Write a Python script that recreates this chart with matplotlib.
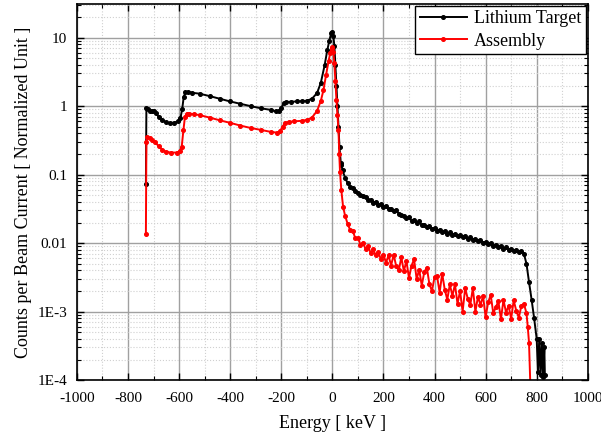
import matplotlib
matplotlib.use('Agg')
import matplotlib.pyplot as plt
from matplotlib.ticker import FixedLocator, MultipleLocator, LogLocator, NullFormatter
import numpy as np

plt.rcParams['font.family'] = ['Liberation Serif', 'DejaVu Serif']
plt.rcParams['axes.unicode_minus'] = False

# Lithium target spectrum (energy keV, counts)
li_E = [-730, -728, -722, -715, -708, -700, -692, -680, -665, -650, -635, -620, -605,
        -595, -588, -582, -575, -565, -550, -520, -480, -440, -400, -360, -320, -280,
        -240, -220, -210, -200, -190, -180, -160, -140, -120, -100, -80, -60, -45, -30,
        -20, -12, -5, 0, 4, 8, 12, 16, 20, 24, 28, 33, 35, 40, 50, 60, 70, 80, 90, 100, 110,
        120, 130, 140, 150, 160, 170, 180, 190, 200, 210, 220, 230, 240, 250, 260, 270,
        280, 290, 300, 310, 320, 330, 340, 350, 360, 370, 380, 390, 400, 410, 420, 430,
        440, 450, 460, 470, 480, 490, 500, 510, 520, 530, 540, 550, 560, 570, 580, 590,
        600, 610, 620, 630, 640, 650, 660, 670, 680, 690, 700, 710, 720, 730, 740, 750,
        760, 770, 780, 790, 800, 805, 810, 815, 820, 825, 830, 832]
li_val = [0.073, 0.95, 0.92, 0.85, 0.84, 0.86, 0.80, 0.70, 0.62, 0.58, 0.56, 0.57, 0.60,
          0.66, 0.9, 1.35, 1.6, 1.62, 1.57, 1.52, 1.40, 1.28, 1.17, 1.08, 1.00, 0.93,
          0.88, 0.84, 0.86, 0.95, 1.10, 1.15, 1.16, 1.17, 1.18, 1.20, 1.28, 1.55, 2.2, 4.0,
          6.5, 9.0, 11.5, 12.0, 10.5, 7.5, 4.0, 2.0, 1.0, 0.5, 0.25, 0.15, 0.14, 0.115, 0.09,
          0.075, 0.067, 0.063, 0.058, 0.054, 0.051,
          0.049, 0.047, 0.043, 0.043, 0.039, 0.040, 0.036, 0.037, 0.034, 0.035, 0.031,
          0.032, 0.029, 0.030, 0.027, 0.026, 0.025, 0.023, 0.0238, 0.0212, 0.0218, 0.0197,
          0.0207, 0.0183, 0.0187, 0.0172, 0.0178, 0.0160, 0.0166, 0.0152, 0.0158, 0.0144,
          0.0150, 0.0138, 0.0143, 0.0133, 0.0137, 0.0126, 0.0131, 0.0121, 0.0125, 0.0115,
          0.0121, 0.0111, 0.0116, 0.0106, 0.0110, 0.0101, 0.0105, 0.0096, 0.0100, 0.0091,
          0.0095, 0.0087, 0.0091, 0.0083, 0.0087, 0.0080, 0.0083, 0.0077, 0.0080, 0.0074,
          0.0077, 0.0070, 0.0050, 0.0027, 0.0015, 0.0008, 0.0004, 0.00013, 0.0004,
          0.00012, 0.00035, 0.00011, 0.0003, 0.00012]

# Assembly spectrum
as_E = [-730, -728, -724, -715, -705, -695, -680, -665, -650, -630, -610, -598, -590,
        -583, -577, -570, -560, -540, -520, -480, -440, -400, -360, -320, -280, -240,
        -215, -205, -195, -185, -170, -150, -120, -100, -80, -60, -45, -35, -25, -15, -8,
        -3, 0, 4, 8, 12, 16, 20, 24, 27, 30, 35, 42, 50,
        60, 70, 80, 90, 100, 110, 120, 130, 140, 150, 160, 170, 180, 190, 200, 210, 220,
        230, 240, 250, 260, 270, 280, 290, 300, 310, 320, 330, 340, 350, 360, 370, 380,
        390, 400, 410, 420, 430, 440, 450, 460, 470, 480, 490, 500, 510, 520, 530, 540,
        550, 560, 570, 580, 590, 600, 610, 620, 630, 640, 650, 660, 670, 680, 690, 700,
        710, 720, 730, 740, 750, 760, 765, 770, 777]
as_val = [0.0136, 0.30, 0.35, 0.34, 0.32, 0.30, 0.26, 0.23, 0.215, 0.21, 0.21, 0.22, 0.25,
          0.45, 0.70, 0.78, 0.78, 0.76, 0.74, 0.68, 0.62, 0.57, 0.52, 0.48, 0.45, 0.42,
          0.41, 0.43, 0.50, 0.57, 0.59, 0.60, 0.61, 0.63, 0.68, 0.85, 1.2, 1.7, 2.8, 4.5, 6.0,
          7.0, 7.2, 6.2, 4.2, 2.3, 1.24, 0.75, 0.45, 0.2, 0.11, 0.06, 0.034, 0.025,
          0.019, 0.0155, 0.0150, 0.0118, 0.0120, 0.0095, 0.0102, 0.0082, 0.0090, 0.0072,
          0.0081, 0.0066, 0.0074, 0.0058, 0.0068, 0.0052, 0.0066, 0.0047, 0.0068, 0.0046,
          0.0040, 0.0062, 0.0039, 0.0055, 0.0031, 0.0047, 0.0058, 0.0030, 0.0041, 0.0024,
          0.0038, 0.0044, 0.0025, 0.0020, 0.0032, 0.0033, 0.0019, 0.0036, 0.0021, 0.0015,
          0.0025, 0.0017, 0.0025, 0.0013, 0.0020, 0.0010, 0.0022, 0.00155, 0.00125, 0.0022,
          0.0010, 0.00165, 0.00125, 0.0017, 0.00083, 0.00137, 0.00175, 0.00095, 0.00116,
          0.00142, 0.00078, 0.00148, 0.00097, 0.00122, 0.00079, 0.00146, 0.00103, 0.00082,
          0.00121, 0.0013, 0.00095, 0.0006, 0.00035, 0.00005]

ytick_vals = [1e-4, 1e-3, 0.01, 0.1, 1, 10]
ytick_labels = ['1E-4', '1E-3', '0.01', '0.1', '1', '10']

fig = plt.figure(figsize=(6.01, 4.41), dpi=100)
ax = fig.add_axes([0.128, 0.138, 0.85, 0.853])

ax.plot(li_E, li_val, color='k', marker='o', markersize=2.6, linewidth=1.4,
        label='Lithium Target')
ax.plot(as_E, as_val, color='r', marker='o', markersize=2.6, linewidth=1.4,
        label='Assembly')

ax.set_yscale('log')
ax.set_xlim(-1000, 1000)
ax.set_ylim(1e-4, 31)
ax.xaxis.set_major_locator(MultipleLocator(200))
ax.xaxis.set_minor_locator(MultipleLocator(100))
ax.yaxis.set_major_locator(FixedLocator(ytick_vals))
ax.set_yticklabels(ytick_labels)
ax.yaxis.set_minor_locator(LogLocator(base=10, subs=np.arange(2, 10)))
ax.yaxis.set_minor_formatter(NullFormatter())

ax.grid(True, which='major', color='#a0a0a0', linewidth=1.0, linestyle='-')
ax.grid(True, which='minor', color='#d0d0d0', linewidth=0.8, linestyle=':')
ax.set_axisbelow(True)

ax.tick_params(which='both', direction='in', top=True, right=True, labelsize=11)
ax.tick_params(which='major', length=5, width=1)
ax.tick_params(which='minor', length=3, width=0.8)
ax.tick_params(axis='x', which='major', pad=8.5)
ax.tick_params(axis='y', which='major', pad=7)
for s in ax.spines.values():
    s.set_linewidth(1.2)

ax.set_xlabel('Energy [ keV ]', fontsize=13, labelpad=7)
ax.set_ylabel('Counts per Beam Current [ Normalized Unit ]', fontsize=13)

leg = ax.legend(loc='upper right', fontsize=13, numpoints=1, handlelength=2.6,
                fancybox=False, framealpha=1, edgecolor='k', borderpad=0.25,
                labelspacing=0.3, handletextpad=0.4, borderaxespad=0.1)
leg.get_frame().set_linewidth(1.0)

plt.savefig('out.png', dpi=100)
